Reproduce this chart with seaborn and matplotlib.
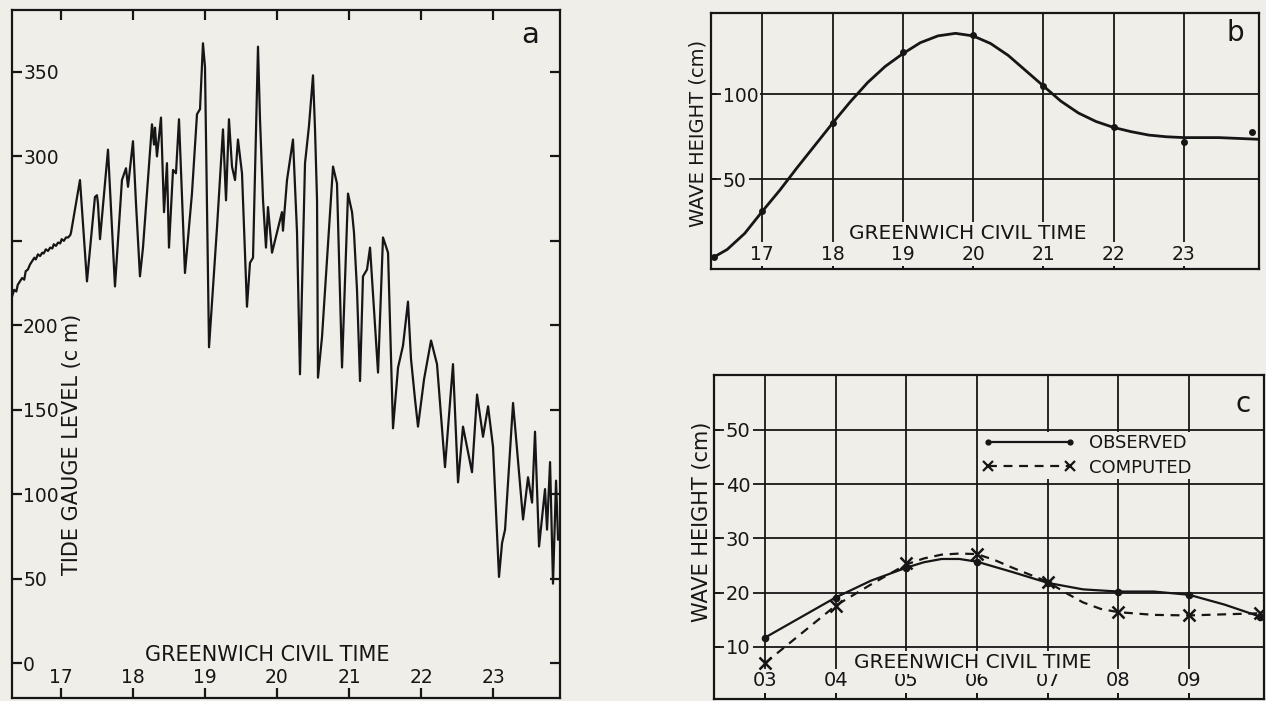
import seaborn as sns
import matplotlib.pyplot as plt
from matplotlib.lines import Line2D

# --- panel a: tide gauge record (hours GCT, level in cm) ---
tide_hours = [16.32, 16.35, 16.38, 16.40, 16.43, 16.46, 16.49, 16.51, 16.54, 16.57,
              16.60, 16.63, 16.65, 16.68, 16.71, 16.74, 16.76, 16.79, 16.82, 16.85,
              16.88, 16.90, 16.93, 16.96, 16.99, 17.01, 17.04, 17.07, 17.10, 17.13, 17.14,
              17.264, 17.361, 17.472, 17.50, 17.514, 17.542, 17.653, 17.75, 17.847, 17.903,
              17.931, 18.0, 18.042, 18.097, 18.139, 18.264, 18.292, 18.306, 18.333, 18.389,
              18.431, 18.472, 18.50, 18.556, 18.597, 18.639, 18.722, 18.819, 18.889, 18.931,
              18.972, 19.0, 19.056, 19.167, 19.25, 19.292, 19.333, 19.375, 19.417, 19.458,
              19.514, 19.583, 19.625, 19.667, 19.736, 19.764, 19.806, 19.847, 19.875, 19.931,
              20.0, 20.069, 20.083, 20.139, 20.222, 20.278, 20.319, 20.389, 20.444, 20.5,
              20.528, 20.556, 20.569, 20.625, 20.778, 20.833, 20.903, 20.944, 20.986, 21.042,
              21.069, 21.111, 21.153, 21.194, 21.25, 21.292, 21.347, 21.403, 21.472, 21.542,
              21.611, 21.681, 21.75, 21.819, 21.861, 21.917, 21.958, 22.042, 22.139, 22.222,
              22.333, 22.444, 22.514, 22.583, 22.708, 22.778, 22.861, 22.931, 23.0, 23.083,
              23.125, 23.167, 23.278, 23.417, 23.486, 23.542, 23.583, 23.639, 23.722, 23.75,
              23.792, 23.833, 23.875, 23.903]
tide_level = [217, 221, 220, 224, 226, 228, 227, 232, 233, 236,
              238, 240, 239, 242, 241, 243, 242.5, 245, 244, 246,
              245.5, 248, 247, 249, 248.5, 251, 250, 252, 252, 253.5, 255,
              286, 226, 276, 277, 272, 251, 304, 223, 286, 293,
              282, 309, 272, 229, 246, 319, 307, 317, 300, 323,
              267, 296, 246, 292, 290, 322, 231, 278, 325, 328,
              367, 353, 187, 258, 316, 274, 322, 294, 286, 310,
              290, 211, 237, 240, 365, 322, 274, 246, 270, 243,
              255, 267, 256, 286, 310, 255, 171, 296, 318, 348,
              316, 274, 169, 193, 294, 284, 175, 225, 278, 267,
              255, 221, 167, 229, 233, 246, 209, 172, 252, 243,
              139, 175, 188, 214, 180, 156, 140, 168, 191, 177,
              116, 177, 107, 140, 113, 159, 134, 152, 128, 51,
              71, 79, 154, 85, 110, 95, 137, 69, 103, 79,
              119, 47, 108, 73]
level_ticks = [0, 50, 100, 150, 200, 250, 300, 350]
level_labels = ['0', '50', '100', '150', '200', '', '300', '350']

# --- panel b: wave height ---
b_hours = [16.31, 17, 18, 19, 20, 21, 22, 23, 23.97]
b_height = [4, 31, 83, 125, 135, 105, 81, 72, 78]
b_curve_hours = [16.31, 16.5, 16.75, 17.0, 17.25, 17.5, 17.75, 18.0, 18.25, 18.5,
                 18.75, 19.0, 19.25, 19.5, 19.75, 20.0, 20.25, 20.5, 20.75, 21.0,
                 21.25, 21.5, 21.75, 22.0, 22.25, 22.5, 22.75, 23.0, 23.5, 24.07]
b_curve_height = [4, 8.5, 18, 31, 43.5, 57, 70, 83, 95.5, 107,
                  116.5, 124, 130.5, 134.5, 136, 134.5, 130, 123, 114, 105,
                  96, 89, 84, 80.5, 78, 76, 75, 74.5, 74.5, 73.5]
hour_ticks = [17, 18, 19, 20, 21, 22, 23]

# --- panel c: observed vs computed ---
c_hours = [3, 4, 5, 6, 7, 8, 9, 10]
observed = [11.7, 19.1, 24.6, 25.7, 21.8, 20.2, 19.6, 15.6]
computed = [7.0, 17.6, 25.4, 27.1, 22.0, 16.5, 15.8, 16.2]
obs_curve_hours = [3, 4, 4.5, 5, 5.25, 5.5, 5.75, 6, 6.5, 7, 7.5, 8, 8.5, 9, 9.5, 10]
obs_curve = [11.7, 19.1, 22.2, 24.6, 25.6, 26.2, 26.2, 25.7, 23.8, 21.8, 20.6, 20.2, 20.2, 19.6, 17.8, 15.6]
comp_curve_hours = [3, 4, 4.5, 5, 5.25, 5.5, 5.75, 6, 6.25, 6.5, 7, 7.25, 7.5, 7.75, 8, 8.5, 9, 9.5, 10]
comp_curve = [7.0, 17.6, 21.5, 25.2, 26.3, 27.0, 27.2, 27.1, 26.0, 24.6, 22.0, 20.0, 18.2, 17.0, 16.4, 15.9, 15.8, 16.0, 16.2]
c_ticks = [3, 4, 5, 6, 7, 8, 9]
c_tick_labels = ['03', '04', '05', '06', '07', '08', '09']
c_height_ticks = [10, 20, 30, 40, 50]

bg = '#f0eee9'
ink = '#161616'

sns.set_theme(style='ticks', rc={
    'figure.facecolor': bg, 'axes.facecolor': bg, 'axes.edgecolor': ink,
    'axes.linewidth': 1.6, 'xtick.color': ink, 'ytick.color': ink,
    'text.color': ink, 'axes.labelcolor': ink,
})
plt.rcParams['font.family'] = ['DejaVu Sans']

fig = plt.figure(figsize=(12.66, 7.01), dpi=100)
W, H = 1266, 701
label_box = dict(facecolor=bg, edgecolor='none', pad=1.5)


def inside_labels(ax, xpad, ypad, boxed):
    # tick labels sit inside the frame, like the original lettering
    ax.tick_params(axis='x', pad=xpad)
    ax.tick_params(axis='y', pad=ypad)
    for t in ax.get_yticklabels():
        t.set_ha('left')
        if boxed:
            t.set_bbox(label_box)
    for t in ax.get_xticklabels():
        t.set_va('center')
        if boxed:
            t.set_bbox(label_box)


# Panel a
ax_a = fig.add_axes([12 / W, 3 / H, 548 / W, 688 / H])
sns.lineplot(x=tide_hours, y=tide_level, ax=ax_a, color=ink, linewidth=1.6,
             sort=False, estimator=None)
ax_a.set_xlim(16.32, 23.93)
ax_a.set_ylim(-20.7, 386.7)
ax_a.set_xticks(hour_ticks, [str(h) for h in hour_ticks])
ax_a.set_yticks(level_ticks, level_labels)
ax_a.tick_params(direction='in', top=True, right=True, length=7, width=1.6, labelsize=13.5)
inside_labels(ax_a, -15, -8, False)
ax_a.set_xlabel('GREENWICH CIVIL TIME', fontsize=15)
ax_a.xaxis.set_label_coords(0.465, 0.0625)
ax_a.xaxis.label.set_va('center')
ax_a.set_ylabel('TIDE GAUGE LEVEL (c m)', fontsize=15)
ax_a.yaxis.set_label_coords(0.109, 0.368)
ax_a.yaxis.label.set_va('center')
ax_a.text(0.945, 0.964, 'a', transform=ax_a.transAxes, ha='center', va='center', fontsize=21)

# Panel b
ax_b = fig.add_axes([711 / W, 432 / H, 548 / W, 256 / H])
ax_b.set_axisbelow(True)
ax_b.grid(True, color=ink, linewidth=1.3)
sns.lineplot(x=b_curve_hours, y=b_curve_height, ax=ax_b, color=ink, linewidth=2.0,
             sort=False, estimator=None)
sns.lineplot(x=b_hours, y=b_height, ax=ax_b, color=ink, linestyle='none', marker='o',
             markersize=5, markeredgewidth=0, sort=False, estimator=None, zorder=3)
ax_b.set_xlim(16.27, 24.07)
ax_b.set_ylim(-3, 148)
ax_b.set_xticks(hour_ticks, [str(h) for h in hour_ticks])
ax_b.set_yticks([50, 100], ['50', '100'])
ax_b.tick_params(direction='in', length=4, width=1.3, labelsize=13.5)
inside_labels(ax_b, -10.8, -8.5, True)
ax_b.set_xlabel('GREENWICH CIVIL TIME', fontsize=14.5, bbox=label_box)
ax_b.xaxis.set_label_coords(0.469, 0.14)
ax_b.xaxis.label.set_va('center')
ax_b.set_ylabel('WAVE HEIGHT (cm)', fontsize=14)
ax_b.yaxis.set_label_coords(-0.024, 0.531)
ax_b.yaxis.label.set_va('center')
ax_b.text(0.956, 0.922, 'b', transform=ax_b.transAxes, ha='center', va='center', fontsize=20)

# Panel c
ax_c = fig.add_axes([714 / W, 2 / H, 550 / W, 324 / H])
ax_c.set_axisbelow(True)
ax_c.grid(True, color=ink, linewidth=1.3)
sns.lineplot(x=obs_curve_hours, y=obs_curve, ax=ax_c, color=ink, linewidth=1.6,
             sort=False, estimator=None)
sns.lineplot(x=comp_curve_hours, y=comp_curve, ax=ax_c, color=ink, linewidth=1.6,
             linestyle=(0, (4, 3)), sort=False, estimator=None)
sns.lineplot(x=c_hours, y=observed, ax=ax_c, color=ink, linestyle='none', marker='o',
             markersize=5.5, markeredgewidth=0, sort=False, estimator=None, zorder=3)
sns.lineplot(x=c_hours, y=computed, ax=ax_c, color=ink, linestyle='none', marker='x',
             markersize=8, markeredgewidth=1.8, markeredgecolor=ink,
             sort=False, estimator=None, zorder=3)
ax_c.set_xlim(2.28, 10.06)
ax_c.set_ylim(0.4, 60.1)
ax_c.set_xticks(c_ticks, c_tick_labels)
ax_c.set_yticks(c_height_ticks, [str(v) for v in c_height_ticks])
ax_c.tick_params(direction='in', length=4, width=1.3, labelsize=14)
inside_labels(ax_c, -13, -8.5, True)
ax_c.set_xlabel('GREENWICH CIVIL TIME', fontsize=14.5, bbox=label_box)
ax_c.xaxis.set_label_coords(0.471, 0.114)
ax_c.xaxis.label.set_va('center')
ax_c.set_ylabel('WAVE HEIGHT (cm)', fontsize=15)
ax_c.yaxis.set_label_coords(-0.022, 0.546)
ax_c.yaxis.label.set_va('center')
ax_c.text(0.962, 0.91, 'c', transform=ax_c.transAxes, ha='center', va='center', fontsize=20)

handles = [Line2D([], [], color=ink, linewidth=1.6, marker='o', markersize=4.5, markeredgewidth=0),
           Line2D([], [], color=ink, linewidth=1.6, linestyle=(0, (4, 3)), marker='x',
                  markersize=6.5, markeredgewidth=1.6, markeredgecolor=ink)]
ax_c.legend(handles, ['OBSERVED', 'COMPUTED'], loc='upper left', bbox_to_anchor=(0.484, 0.825),
            numpoints=2, handlelength=5.1, fontsize=13, frameon=True, facecolor=bg,
            edgecolor='none', framealpha=1, fancybox=False, borderaxespad=0,
            borderpad=0.15, handletextpad=0.8, labelspacing=0.35)

fig.savefig('out.png', dpi=100, facecolor=bg)
